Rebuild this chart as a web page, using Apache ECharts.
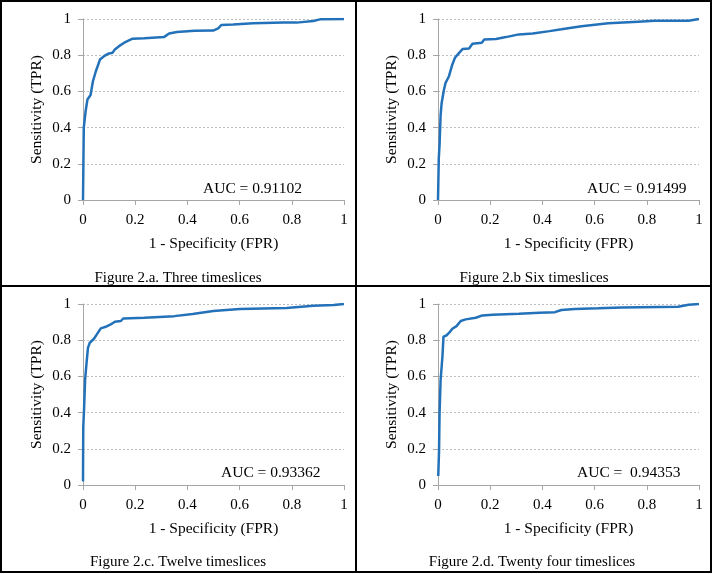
<!DOCTYPE html>
<html>
<head>
<meta charset="utf-8">
<script src="https://cdn.jsdelivr.net/npm/echarts@6/dist/echarts.min.js"></script>
<style>
html,body{margin:0;padding:0;background:#fff;}
#chart{width:713px;height:574px;}
</style>
</head>
<body>
<div id="chart"></div>
<script>
// ---- Data ----
const tickLabels = ["0", "0.2", "0.4", "0.6", "0.8", "1"];
const xAxisTitle = "1 - Specificity (FPR)";
const yAxisTitle = "Sensitivity (TPR)";

const captions = [
  "Figure 2.a. Three timeslices",
  "Figure 2.b Six timeslices",
  "Figure 2.c. Twelve timeslices",
  "Figure 2.d. Twenty four timeslices"
];
const aucLabels = ["AUC = 0.91102", "AUC = 0.91499", "AUC = 0.93362", "AUC =  0.94353"];

const fprA = [0, 0.003, 0.01, 0.017, 0.029, 0.038, 0.049, 0.065, 0.081, 0.096, 0.113, 0.122, 0.138, 0.158, 0.17, 0.19, 0.235, 0.31, 0.33, 0.36, 0.427, 0.499, 0.518, 0.53, 0.575, 0.652, 0.767, 0.818, 0.882, 0.908, 1];
const tprA = [0, 0.40, 0.49, 0.555, 0.58, 0.656, 0.71, 0.776, 0.795, 0.808, 0.813, 0.832, 0.85, 0.869, 0.878, 0.891, 0.893, 0.90, 0.92, 0.928, 0.935, 0.936, 0.948, 0.967, 0.97, 0.976, 0.98, 0.98, 0.989, 0.998, 1];

const fprB = [0, 0.003, 0.006, 0.01, 0.014, 0.023, 0.029, 0.042, 0.055, 0.065, 0.081, 0.094, 0.119, 0.132, 0.168, 0.177, 0.222, 0.26, 0.31, 0.363, 0.427, 0.473, 0.55, 0.652, 0.767, 0.83, 0.96, 1];
const tprB = [0, 0.23, 0.305, 0.47, 0.536, 0.61, 0.647, 0.684, 0.749, 0.786, 0.813, 0.834, 0.837, 0.863, 0.869, 0.887, 0.889, 0.90, 0.915, 0.92, 0.933, 0.943, 0.96, 0.976, 0.985, 0.99, 0.99, 1];

const fprC = [0, 0.001, 0.004, 0.008, 0.013, 0.019, 0.026, 0.042, 0.053, 0.068, 0.087, 0.106, 0.122, 0.145, 0.154, 0.235, 0.35, 0.42, 0.499, 0.6, 0.78, 0.882, 0.96, 1];
const tprC = [0.02, 0.32, 0.416, 0.58, 0.665, 0.758, 0.786, 0.808, 0.832, 0.865, 0.874, 0.887, 0.902, 0.906, 0.92, 0.924, 0.933, 0.945, 0.961, 0.972, 0.978, 0.99, 0.995, 1];

const fprD = [0.001, 0.004, 0.006, 0.01, 0.017, 0.021, 0.032, 0.042, 0.055, 0.071, 0.087, 0.106, 0.145, 0.17, 0.209, 0.31, 0.388, 0.448, 0.473, 0.524, 0.614, 0.703, 0.92, 0.96, 1];
const tprD = [0.05, 0.19, 0.397, 0.58, 0.71, 0.82, 0.826, 0.84, 0.863, 0.878, 0.906, 0.915, 0.924, 0.937, 0.941, 0.946, 0.952, 0.955, 0.967, 0.972, 0.976, 0.981, 0.985, 0.996, 1];

const fprs = [fprA, fprB, fprC, fprD];
const tprs = [tprA, tprB, tprC, tprD];

// ---- Layout ----
const FONT = "Liberation Serif";
const grids = [
  {left: 83, top: 19, width: 261, height: 181},
  {left: 438, top: 19, width: 261, height: 181},
  {left: 83, top: 304, width: 261, height: 181},
  {left: 438, top: 304, width: 261, height: 181}
];
const captionPos = [[178, 278], [534, 278], [178, 562], [532, 562]];
const aucPos = [[203, 189], [587, 189], [221, 473], [577, 473]];

const lineColor = "#2372B9";

const xAxes = [], yAxes = [], series = [], graphics = [];
grids.forEach((g, i) => {
  xAxes.push({
    type: 'value', gridIndex: i, min: 0, max: 1, interval: 0.2,
    name: xAxisTitle, nameLocation: 'middle', nameGap: 36,
    nameTextStyle: {fontFamily: FONT, fontSize: 15.5, color: '#000'},
    axisLine: {show: true, onZero: false, lineStyle: {color: '#A6A6A6', width: 1}},
    axisTick: {show: true, length: 5, lineStyle: {color: '#A6A6A6'}},
    axisLabel: {fontFamily: FONT, fontSize: 15, color: '#000', margin: 13,
      formatter: v => tickLabels[Math.round(v * 5)]},
    splitLine: {show: false}
  });
  yAxes.push({
    type: 'value', gridIndex: i, min: 0, max: 1, interval: 0.2,
    name: yAxisTitle, nameLocation: 'middle', nameGap: 38, nameRotate: 90,
    nameTextStyle: {fontFamily: FONT, fontSize: 15.5, color: '#000'},
    axisLine: {show: true, lineStyle: {color: '#A6A6A6', width: 1}},
    axisTick: {show: true, length: 5, lineStyle: {color: '#A6A6A6'}},
    axisLabel: {fontFamily: FONT, fontSize: 15, color: '#000', margin: 12,
      formatter: v => tickLabels[Math.round(v * 5)]},
    splitLine: {show: true, lineStyle: {color: '#BDBDBD', type: [2, 2], width: 1}}
  });
  series.push({
    type: 'line', xAxisIndex: i, yAxisIndex: i,
    data: fprs[i].map((x, k) => [x, tprs[i][k]]),
    showSymbol: false, symbol: 'none',
    lineStyle: {color: lineColor, width: 2.5},
    itemStyle: {color: lineColor},
    animation: false
  });
  graphics.push({
    type: 'text', x: captionPos[i][0], y: captionPos[i][1],
    style: {text: captions[i], fontFamily: FONT, fontSize: 15, fill: '#000',
      textAlign: 'center', textVerticalAlign: 'middle'}
  });
  graphics.push({
    type: 'text',
    x: aucPos[i][0], y: aucPos[i][1],
    style: {text: aucLabels[i], fontFamily: FONT, fontSize: 15.5, fill: '#000',
      textAlign: 'left', textVerticalAlign: 'middle'}
  });
});

// borders
graphics.push({type: 'rect', shape: {x: 1, y: 1, width: 710, height: 571},
  style: {fill: 'none', stroke: '#000', lineWidth: 2}, z: 10});
graphics.push({type: 'line', shape: {x1: 356, y1: 1, x2: 356, y2: 572},
  style: {stroke: '#000', lineWidth: 2}, z: 10});
graphics.push({type: 'line', shape: {x1: 1, y1: 286, x2: 711, y2: 286},
  style: {stroke: '#000', lineWidth: 2}, z: 10});

const chart = echarts.init(document.getElementById('chart'), null, {renderer: 'canvas'});
chart.setOption({
  backgroundColor: '#fff',
  animation: false,
  grid: grids,
  xAxis: xAxes,
  yAxis: yAxes,
  series: series,
  graphic: graphics
});
</script>
</body>
</html>
